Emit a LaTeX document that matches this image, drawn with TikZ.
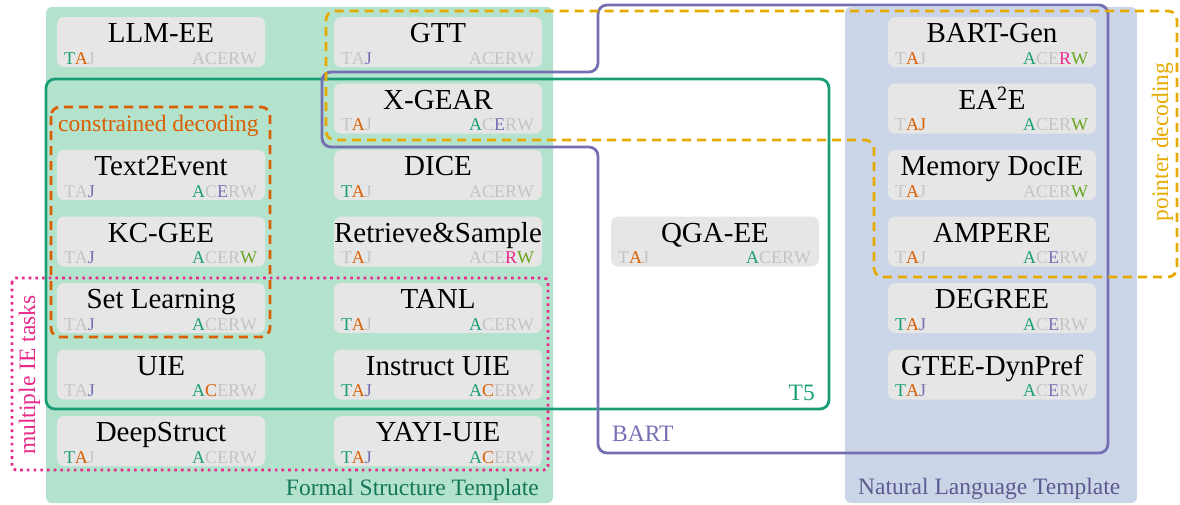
\documentclass[tikz,border=0pt]{standalone}
\usepackage{fontspec}
\setmainfont{Liberation Serif}
\definecolor{cT}{HTML}{1B9E77}
\definecolor{cO}{HTML}{D95F02}
\definecolor{cP}{HTML}{7570B3}
\definecolor{cK}{HTML}{E7298A}
\definecolor{cG}{HTML}{66A61E}
\definecolor{cY}{HTML}{E6AB02}
\definecolor{lgray}{HTML}{C4C4C4}
\definecolor{boxgray}{HTML}{E6E6E6}
\definecolor{bgformal}{HTML}{B3E2CD}
\definecolor{bgnatural}{HTML}{CBD5E8}
\newcommand\namefont{\fontsize{29}{30}\selectfont}
\newcommand\letfont{\fontsize{18}{19}\selectfont}
\newcommand\labfont{\fontsize{23.5}{25}\selectfont}
\newcommand\lt[3]{\ifcase#1 \textcolor{lgray}{#3}\or\textcolor{#2}{#3}\or\textcolor{cO}{#3}\fi}
\newcommand\taj[3]{\lt{#1}{cT}{T}\lt{#2}{cO}{A}\lt{#3}{cP}{J}}
\newcommand\acerw[5]{\lt{#1}{cT}{A}\lt{#2}{cO}{C}\lt{#3}{cP}{E}\lt{#4}{cK}{R}\lt{#5}{cG}{W}}
\newcommand\methbox[6]{%
  \pgfmathsetmacro\cy{42+66.5*#3}
  \node[mbox] (#1) at (#2,\cy) {};
  \node[mname, anchor=base] (#1-n) at ([yshift=-26pt]#1.north) {#4};
  \node[mlet, anchor=base west] (#1-t) at ([xshift=7pt,yshift=3pt]#1.south west) {#5};
  \node[mlet, anchor=base east] (#1-a) at ([xshift=-8pt,yshift=3pt]#1.south east) {#6};
}
\begin{document}
\begin{tikzpicture}[x=1pt,y=-1pt,
  mbox/.style={minimum width=208pt, minimum height=50pt, inner sep=0pt, rounded corners=7pt, fill=boxgray, draw=none},
  mname/.style={inner sep=0pt, font=\namefont},
  mlet/.style={inner sep=0pt, font=\letfont},
  bgpanel/.style={rounded corners=6pt, draw=none},
  solidline/.style={line width=2.8pt, rounded corners=9pt},
  dashline/.style={line width=2.8pt, rounded corners=9pt, dash pattern=on 9pt off 6pt},
  dotline/.style={line width=2.8pt, rounded corners=4pt, dash pattern=on 2.6pt off 4.1pt},
  lab/.style={inner sep=0pt, font=\labfont}
]
\useasboundingbox (0,0) rectangle (1180,504);
% backgrounds
\fill[bgformal, bgpanel] (46,7) rectangle (553,503);
\fill[bgnatural, bgpanel] (845,7) rectangle (1137,503);
% left column
\methbox{llmee}{161}{0}{LLM-EE}{\taj{1}{1}{0}}{\acerw{0}{0}{0}{0}{0}}
\methbox{t2e}{161}{2}{Text2Event}{\taj{0}{0}{1}}{\acerw{1}{0}{1}{0}{0}}
\methbox{kcgee}{161}{3}{KC-GEE}{\taj{0}{0}{1}}{\acerw{1}{0}{0}{0}{1}}
\methbox{setl}{161}{4}{Set Learning}{\taj{0}{0}{1}}{\acerw{1}{0}{0}{0}{0}}
\methbox{uie}{161}{5}{UIE}{\taj{0}{0}{1}}{\acerw{1}{1}{0}{0}{0}}
\methbox{deeps}{161}{6}{DeepStruct}{\taj{1}{1}{0}}{\acerw{1}{0}{0}{0}{0}}
% middle column
\methbox{gtt}{438}{0}{GTT}{\taj{0}{0}{1}}{\acerw{0}{0}{0}{0}{0}}
\methbox{xgear}{438}{1}{X-GEAR}{\taj{0}{1}{0}}{\acerw{1}{0}{1}{0}{0}}
\methbox{dice}{438}{2}{DICE}{\taj{1}{1}{0}}{\acerw{0}{0}{0}{0}{0}}
\methbox{rands}{438}{3}{Retrieve\&Sample}{\taj{0}{1}{0}}{\acerw{0}{0}{0}{1}{1}}
\methbox{tanl}{438}{4}{TANL}{\taj{1}{1}{0}}{\acerw{1}{0}{0}{0}{0}}
\methbox{iuie}{438}{5}{Instruct UIE}{\taj{1}{1}{1}}{\acerw{1}{1}{0}{0}{0}}
\methbox{yayi}{438}{6}{YAYI-UIE}{\taj{1}{1}{1}}{\acerw{1}{1}{0}{0}{0}}
% QGA-EE
\methbox{qga}{715}{3}{QGA-EE}{\taj{0}{1}{0}}{\acerw{1}{0}{0}{0}{0}}
% right column
\methbox{bartgen}{992}{0}{BART-Gen}{\taj{0}{1}{0}}{\acerw{1}{0}{0}{1}{1}}
\methbox{eae}{992}{1}{EA\textsuperscript{2}E}{\taj{0}{1}{2}}{\acerw{1}{0}{0}{0}{1}}
\methbox{memdoc}{992}{2}{Memory DocIE}{\taj{0}{1}{0}}{\acerw{0}{0}{0}{0}{1}}
\methbox{ampere}{992}{3}{AMPERE}{\taj{0}{1}{0}}{\acerw{1}{0}{1}{0}{0}}
\methbox{degree}{992}{4}{DEGREE}{\taj{1}{1}{1}}{\acerw{1}{0}{1}{0}{0}}
\methbox{gtee}{992}{5}{GTEE-DynPref}{\taj{1}{1}{1}}{\acerw{1}{0}{1}{0}{0}}
% group outlines
\draw[solidline, cT] (46,79) rectangle (829,409);
\draw[solidline, cP] (850,5) -- (1108,5) -- (1108,453) -- (598,453) -- (598,147) -- (322,147) -- (322,72) -- (598,72) -- (598,5) -- (850,5);
\draw[dashline, cY] (700,11) -- (1177,11) -- (1177,277) -- (874,277) -- (874,140) -- (326,140) -- (326,11) -- (700,11);
\draw[dashline, cO] (51,107) rectangle (270,337);
\draw[dotline, cK] (12,278) rectangle (548,470);
% labels
\node[lab, text=cT!75!black, anchor=base east] (formal) at (539,495) {Formal Structure Template};
\node[lab, text=cP!80!black, anchor=base west] (natural) at (858,494) {Natural Language Template};
\node[lab, text=cT, anchor=base east] (t5) at (815,400) {T5};
\node[lab, text=cP, anchor=base west] (bart) at (612,441) {BART};
\node[lab, text=cO, anchor=base west] (cons) at (58,131) {constrained decoding};
\node[lab, text=cK, anchor=base, rotate=90] (multi) at (35,375) {multiple IE tasks};
\node[lab, text=cY, anchor=base, rotate=90] (pointer) at (1168,142) {pointer decoding};
\end{tikzpicture}
\end{document}
